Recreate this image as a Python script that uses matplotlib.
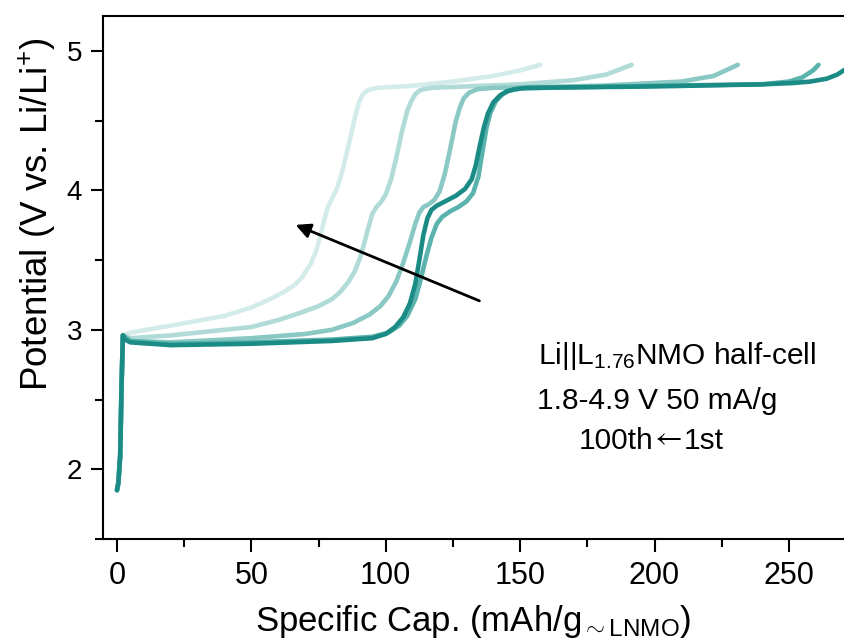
import matplotlib

matplotlib.use("Agg")
import matplotlib.pyplot as plt
from matplotlib.ticker import MultipleLocator

plt.rcParams["font.family"] = ["Liberation Sans", "DejaVu Sans"]
plt.rcParams["mathtext.fontset"] = "custom"
plt.rcParams["mathtext.rm"] = "Liberation Sans"
plt.rcParams["mathtext.it"] = "Liberation Sans:italic"
plt.rcParams["mathtext.sf"] = "Liberation Sans"

# charge curves, cycle 100 (left) -> cycle 1 (right)
cap_100 = [0, 0.5, 1.2, 1.7, 2.2, 5, 20, 40, 50, 57, 62, 66, 69, 72, 74, 75.5, 77, 78.5, 80,
           82, 84, 86.5, 88.5, 90, 91.5, 93.5, 97, 110, 125, 140, 150, 157.5]
pot_100 = [1.85, 1.9, 2.1, 2.6, 2.96, 2.98, 3.03, 3.10, 3.16, 3.22, 3.27, 3.32, 3.38, 3.47,
           3.56, 3.66, 3.78, 3.88, 3.94, 4.02, 4.15, 4.35, 4.52, 4.63, 4.69, 4.72, 4.735, 4.75,
           4.78, 4.82, 4.86, 4.90]

cap_75 = [0, 0.5, 1.2, 1.7, 2.2, 5, 20, 50, 60, 68, 75, 80, 83, 86, 88.5, 90.5, 92, 93.5, 95,
          96.5, 98, 100, 102, 104, 106, 108, 109.5, 111, 113, 117, 130, 150, 170, 182, 191.5]
pot_75 = [1.85, 1.9, 2.1, 2.6, 2.96, 2.94, 2.96, 3.02, 3.07, 3.12, 3.17, 3.22, 3.27, 3.34,
          3.42, 3.52, 3.62, 3.73, 3.83, 3.88, 3.91, 3.97, 4.08, 4.24, 4.42, 4.57, 4.64, 4.69,
          4.72, 4.735, 4.745, 4.76, 4.79, 4.83, 4.90]

cap_50 = [0, 0.5, 1.2, 1.7, 2.2, 5, 20, 50, 70, 80, 88, 94, 98, 101, 104, 106.5, 109, 111,
          112.5, 114, 116, 118, 120, 122, 124, 126, 127.5, 129, 131, 134, 140, 180, 210, 222, 231]
pot_50 = [1.85, 1.9, 2.1, 2.6, 2.96, 2.92, 2.91, 2.94, 2.97, 3.00, 3.05, 3.11, 3.17, 3.24,
          3.35, 3.48, 3.63, 3.76, 3.84, 3.88, 3.90, 3.93, 3.99, 4.12, 4.30, 4.49, 4.59, 4.66,
          4.70, 4.725, 4.735, 4.75, 4.78, 4.82, 4.90]

cap_10 = [0, 0.5, 1.2, 1.7, 2.2, 5, 20, 50, 80, 95, 101, 105, 108, 111, 113, 115, 117, 119,
          121, 124, 127, 130, 132.5, 134.5, 136, 137.5, 139, 141, 143.5, 146, 150, 160, 200,
          240, 250, 255, 259, 261]
pot_10 = [1.85, 1.9, 2.1, 2.6, 2.96, 2.92, 2.90, 2.91, 2.93, 2.95, 2.98, 3.03, 3.10, 3.22,
          3.36, 3.52, 3.66, 3.76, 3.81, 3.85, 3.88, 3.92, 3.98, 4.10, 4.28, 4.45, 4.56, 4.64,
          4.69, 4.715, 4.73, 4.735, 4.75, 4.76, 4.78, 4.81, 4.86, 4.90]

cap_1 = [0, 0.5, 1.2, 1.7, 2.2, 3, 5, 20, 50, 80, 95, 100, 103.5, 106.5, 109, 111, 112.5,
         114, 115.5, 117, 119, 122, 126, 129.5, 132, 133.5, 135, 136.5, 138, 140, 142.5, 145,
         148, 152, 200, 240, 252, 258, 264, 268, 272]
pot_1 = [1.85, 1.9, 2.1, 2.6, 2.96, 2.93, 2.91, 2.89, 2.90, 2.92, 2.94, 2.97, 3.02, 3.09,
         3.19, 3.33, 3.50, 3.68, 3.80, 3.86, 3.89, 3.92, 3.96, 4.01, 4.08, 4.18, 4.32, 4.45,
         4.55, 4.63, 4.68, 4.71, 4.725, 4.735, 4.745, 4.76, 4.77, 4.78, 4.80, 4.83, 4.88]

curves = [
    (cap_100, pot_100, "#d3ecea"),
    (cap_75, pot_75, "#b0dbd7"),
    (cap_50, pot_50, "#8ac8c3"),
    (cap_10, pot_10, "#5ab3ad"),
    (cap_1, pot_1, "#1b8b86"),
]

fig = plt.figure(figsize=(8.44, 6.43), dpi=100)
ax = fig.add_axes([103 / 844, 104 / 643, 741 / 844, 523 / 643])

for cap, pot, color in curves:
    ax.plot(cap, pot, color=color, lw=3.3, solid_joinstyle="round", solid_capstyle="round")

ax.set_xlim(-5.2, 270.5)
ax.set_ylim(1.5, 5.25)
ax.xaxis.set_major_locator(MultipleLocator(50))
ax.xaxis.set_minor_locator(MultipleLocator(25))
ax.yaxis.set_major_locator(MultipleLocator(1))
ax.yaxis.set_minor_locator(MultipleLocator(0.5))
ax.tick_params(which="both", direction="out", width=1.5, top=False, right=False)
ax.tick_params(which="major", length=9)
ax.tick_params(which="minor", length=5.5)
ax.tick_params(axis="x", which="major", labelsize=22, pad=7)
ax.tick_params(axis="y", which="major", labelsize=20, pad=6)
for side in ["left", "bottom", "top"]:
    ax.spines[side].set_linewidth(1.5)
ax.spines["right"].set_visible(False)

ax.set_xlabel(r"Specific Cap. (mAh/g$_{\sim\mathrm{LNMO}}$)", fontsize=25)
ax.set_ylabel(r"Potential (V vs. Li/Li$^{+}$)", fontsize=26.5)
ax.xaxis.set_label_coords(0.5, -0.122)
ax.yaxis.set_label_coords(-0.061, 0.62)

ax.annotate("", xy=(65.5, 3.76), xytext=(135.8, 3.20),
            arrowprops=dict(arrowstyle="-|>", color="black", lw=2, mutation_scale=22))

ax.text(156.6, 2.81, r"Li||L$_{1.76}$NMO half-cell", fontsize=21.5, ha="left", va="center")
ax.text(156.2, 2.49, "1.8-4.9 V 50 mA/g", fontsize=21.5, ha="left", va="center")
ax.text(199.6, 2.20, "100th", fontsize=21.5, ha="right", va="center")
ax.text(205.2, 2.21, "\u2190", fontsize=21.5, family="STIXGeneral", ha="center", va="center")
ax.text(210.8, 2.20, "1st", fontsize=21.5, ha="left", va="center")

fig.savefig("out.png", dpi=100)
